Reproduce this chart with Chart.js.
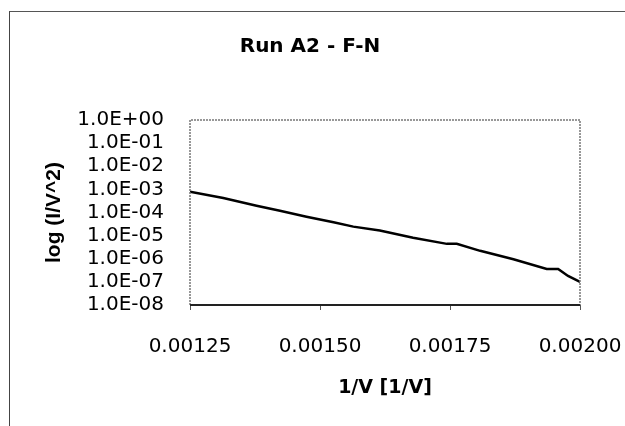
<!DOCTYPE html>
<html>
<head>
    <meta charset="utf-8">
    <title>Run A2 - F-N</title>
    <script src="https://cdn.jsdelivr.net/npm/chart.js@4.4.1/dist/chart.umd.min.js"></script>
    <style>
        body { margin: 0; background: #fff; }
        #wrap { position: relative; width: 625px; height: 426px; }
        #frame { position: absolute; left: 9px; top: 11px; right: -2px; bottom: -2px;
                 border-top: 1px solid #555; border-left: 1px solid #444; }
        canvas { position: absolute; left: 0; top: 0; }
    </style>
</head>
<body>
<div id="wrap">
    <div id="frame"></div>
    <canvas id="myChart" width="625" height="426"></canvas>
</div>
<script>
    // 1/V values and I/V^2
    const invV = [0.00125, 0.001314, 0.001378, 0.001423, 0.001474, 0.001526, 0.001564, 0.001615,
                  0.001679, 0.001744, 0.001763, 0.001808, 0.001872, 0.001936, 0.001958, 0.001977, 0.002];
    const ivSq = [7.9e-4, 4.2e-4, 1.95e-4, 1.2e-4, 6.6e-5, 3.8e-5, 2.45e-5, 1.66e-5,
                  8.1e-6, 4.4e-6, 4.4e-6, 2.2e-6, 9.5e-7, 3.6e-7, 3.6e-7, 1.8e-7, 1.0e-7];
    const xTicks = [0.00125, 0.0015, 0.00175, 0.002];
    const yTicks = [1, 1e-1, 1e-2, 1e-3, 1e-4, 1e-5, 1e-6, 1e-7, 1e-8];

    function sci(v) {
        const e = Math.round(Math.log10(v));
        const s = e < 0 ? '-' : '+';
        return '1.0E' + s + String(Math.abs(e)).padStart(2, '0');
    }

    const plotFrame = {
        id: 'plotFrame',
        afterDraw(chart) {
            const {ctx, chartArea: a} = chart;
            ctx.save();
            ctx.strokeStyle = '#777';
            ctx.lineWidth = 1.5;
            ctx.setLineDash([2, 1]);
            ctx.beginPath();
            ctx.moveTo(a.left, a.bottom);
            ctx.lineTo(a.left, a.top);
            ctx.lineTo(a.right, a.top);
            ctx.lineTo(a.right, a.bottom);
            ctx.stroke();
            ctx.setLineDash([]);
            ctx.strokeStyle = '#222';
            ctx.lineWidth = 2;
            ctx.beginPath();
            ctx.moveTo(a.left, a.bottom);
            ctx.lineTo(a.right, a.bottom);
            ctx.stroke();
            ctx.restore();
        }
    };

    const ctx = document.getElementById('myChart').getContext('2d');
    new Chart(ctx, {
        type: 'line',
        data: {
            datasets: [{
                data: invV.map((x, i) => ({x: x, y: ivSq[i]})),
                borderColor: '#000',
                borderWidth: 2.5,
                pointRadius: 0,
                tension: 0,
                fill: false
            }]
        },
        options: {
            responsive: false,
            animation: false,
            layout: { padding: { left: 40, right: 45, top: 0, bottom: 0 } },
            plugins: {
                legend: { display: false },
                tooltip: { enabled: false },
                title: {
                    display: true,
                    text: 'Run A2 - F-N',
                    color: '#000',
                    font: { family: 'DejaVu Sans', size: 20, weight: 'bold' },
                    padding: { top: 35, bottom: 61 }
                }
            },
            scales: {
                x: {
                    type: 'linear',
                    min: 0.00125,
                    max: 0.002,
                    afterBuildTicks: s => { s.ticks = xTicks.map(v => ({value: v})); },
                    afterFit: s => { s.height = 121; s.paddingLeft = 0; s.paddingRight = 0; },
                    grid: { display: true, drawOnChartArea: false, tickLength: 5, color: '#555' },
                    border: { display: false },
                    ticks: {
                        color: '#000',
                        padding: 25,
                        maxRotation: 0,
                        autoSkip: false,
                        font: { family: 'DejaVu Sans', size: 20 },
                        callback: v => v.toFixed(5)
                    },
                    title: {
                        display: true,
                        text: '1/V [1/V]',
                        color: '#000',
                        font: { family: 'DejaVu Sans', size: 19, weight: 'bold' },
                        padding: { top: 0, bottom: 27 }
                    }
                },
                y: {
                    type: 'logarithmic',
                    min: 1e-8,
                    max: 1,
                    afterBuildTicks: s => { s.ticks = yTicks.map(v => ({value: v})); },
                    afterFit: s => { s.width = 150; s.paddingTop = 0; s.paddingBottom = 0; },
                    grid: { display: false },
                    border: { display: false },
                    ticks: {
                        color: '#000',
                        padding: 18,
                        autoSkip: false,
                        font: { family: 'DejaVu Sans', size: 20 },
                        callback: v => sci(v)
                    },
                    title: {
                        display: true,
                        text: 'log (I/V^2)',
                        color: '#000',
                        font: { family: 'Liberation Sans', size: 21, weight: 'bold' },
                        padding: { top: 2, bottom: 0 }
                    }
                }
            }
        },
        plugins: [plotFrame]
    });
</script>
</body>
</html>
